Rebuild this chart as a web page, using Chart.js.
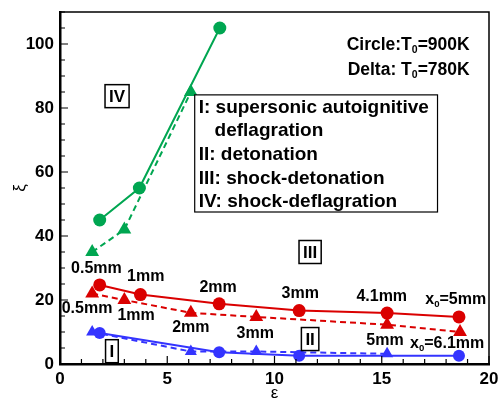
<!DOCTYPE html>
<html>
<head>
<meta charset="utf-8">
<script src="https://cdn.jsdelivr.net/npm/chart.js@4.4.1/dist/chart.umd.min.js"></script>
<style>
  html, body { margin: 0; padding: 0; background: #fff; }
  #wrap { width: 498px; height: 398px; }
</style>
</head>
<body>
<div id="wrap"><canvas id="chart"></canvas></div>
<script>
// données
const greenCircleX = [1.85, 3.7, 7.45];
const greenCircleY = [45, 55, 105];
const greenTriX = [1.5, 3.0, 6.1];
const greenTriY = [35, 42, 85];

const redCircleX = [1.85, 3.75, 7.42, 11.15, 15.25, 18.6];
const redCircleY = [24.7, 21.7, 18.8, 16.7, 15.9, 14.7];
const redTriX = [1.5, 3.0, 6.1, 9.15, 15.25, 18.65];
const redTriY = [22, 20, 16, 14.7, 12.3, 10];

const blueCircleX = [1.85, 7.42, 11.15, 18.6];
const blueCircleY = [9.7, 3.7, 2.6, 2.6];
const blueTriX = [1.5, 6.1, 9.15, 15.25];
const blueTriY = [10, 3.9, 3.9, 3.2];

const xTickLabels = [0, 5, 10, 15, 20];
const yTickLabels = [0, 20, 40, 60, 80, 100];

const circleLabels = ['0.5mm', '1mm', '2mm', '3mm', '4.1mm', '5mm'];
const triLabels = ['0.5mm', '1mm', '2mm', '3mm', '5mm', '6.1mm'];
const regimeLegend = ['I: supersonic autoignitive', '   deflagration', 'II: detonation', 'III: shock-detonation', 'IV: shock-deflagration'];

const GREEN = 'rgb(0,166,81)';
const RED = 'rgb(218,0,0)';
const BLUE = 'rgb(52,52,255)';
const FONT = '"Liberation Sans", Arial, sans-serif';

function pts(xs, ys) {
    return xs.map((x, i) => ({ x: x, y: ys[i] }));
}

function series(xs, ys, color, style, dashed, r) {
    return {
        data: pts(xs, ys),
        borderColor: color,
        backgroundColor: color,
        borderWidth: 2,
        borderDash: dashed ? [6, 4] : [],
        pointStyle: style,
        pointRadius: r,
        pointHoverRadius: r,
        pointBorderWidth: 0,
        tension: 0
    };
}

// texte avec indice (x0, T0)
function drawRich(ctx, parts, x, y, size, align) {
    let w = 0;
    parts.forEach(p => {
        ctx.font = 'bold ' + (p.sub ? size * 0.6 : size) + 'px ' + FONT;
        p.w = ctx.measureText(p.t).width;
        w += p.w;
    });
    let cx = align === 'right' ? x - w : (align === 'left' ? x : x - w / 2);
    ctx.textAlign = 'left';
    ctx.textBaseline = 'middle';
    parts.forEach(p => {
        ctx.font = 'bold ' + (p.sub ? size * 0.6 : size) + 'px ' + FONT;
        ctx.fillText(p.t, cx, p.sub ? y + size * 0.3 : y);
        cx += p.w;
    });
}

function boxedLabel(ctx, text, x, y, size) {
    ctx.font = 'bold ' + size + 'px ' + FONT;
    const w = ctx.measureText(text).width;
    const bw = w + 8, bh = size + 6;
    ctx.fillStyle = '#fff';
    ctx.fillRect(x - bw / 2, y - bh / 2, bw, bh);
    ctx.lineWidth = 1.5;
    ctx.strokeStyle = '#000';
    ctx.strokeRect(x - bw / 2, y - bh / 2, bw, bh);
    ctx.fillStyle = '#000';
    ctx.textAlign = 'center';
    ctx.textBaseline = 'middle';
    ctx.fillText(text, x, y + 1);
}

const decorPlugin = {
    id: 'decor',
    afterDatasetsDraw(chart) {
        const ctx = chart.ctx;
        const xs = chart.scales.x, ys = chart.scales.y;
        const a = chart.chartArea;
        const X = v => xs.getPixelForValue(v);
        const Y = v => ys.getPixelForValue(v);
        ctx.save();

        // cadre
        ctx.strokeStyle = '#000';
        ctx.lineWidth = 1.5;
        ctx.beginPath();
        ctx.moveTo(a.left, a.top);
        ctx.lineTo(a.right, a.top);
        ctx.lineTo(a.right, a.bottom);
        ctx.stroke();

        // graduations vers l'intérieur
        ctx.lineWidth = 1.2;
        ctx.beginPath();
        for (let v = 0; v <= 20; v += 1) {
            const len = v % 5 === 0 ? 8 : 5;
            ctx.moveTo(X(v), a.bottom);
            ctx.lineTo(X(v), a.bottom - len);
        }
        for (let v = 0; v <= 110; v += 5) {
            const len = v % 20 === 0 ? 8 : 5;
            ctx.moveTo(a.left, Y(v));
            ctx.lineTo(a.left + len, Y(v));
        }
        ctx.stroke();

        // étiquettes des points
        ctx.fillStyle = '#000';
        const fs = 16;
        const cPos = [[1.7, 29.7], [4.0, 27.2], [7.37, 23.8], [11.2, 21.9], [15.0, 21.2]];
        cPos.forEach((p, i) => drawRich(ctx, [{ t: circleLabels[i] }], X(p[0]), Y(p[1]), fs, 'center'));
        drawRich(ctx, [{ t: 'x' }, { t: '0', sub: true }, { t: '=' + circleLabels[5] }], X(18.45), Y(20), fs, 'center');
        const tPos = [[1.26, 17.2], [3.55, 15], [6.1, 11.3], [9.1, 9.4], [15.15, 7.2]];
        tPos.forEach((p, i) => drawRich(ctx, [{ t: triLabels[i] }], X(p[0]), Y(p[1]), fs, 'center'));
        drawRich(ctx, [{ t: 'x' }, { t: '0', sub: true }, { t: '=' + triLabels[5] }], X(18.05), Y(6.3), fs, 'center');

        // régimes
        boxedLabel(ctx, 'IV', X(2.66), Y(83.7), 17);
        boxedLabel(ctx, 'III', X(11.66), Y(35), 17);
        boxedLabel(ctx, 'II', X(11.66), Y(7.8), 17);
        boxedLabel(ctx, 'I', X(2.42), Y(4), 17);

        // températures
        ctx.fillStyle = '#000';
        drawRich(ctx, [{ t: 'Circle:T' }, { t: '0', sub: true }, { t: '=900K' }], X(19.1), Y(99.7), 17.5, 'right');
        drawRich(ctx, [{ t: 'Delta: T' }, { t: '0', sub: true }, { t: '=780K' }], X(19.1), Y(91.9), 17.5, 'right');

        // légende des régimes
        const bx = X(6.28), by = Y(84.1), bw = X(17.6) - bx, bh = Y(47.5) - by;
        ctx.fillStyle = '#fff';
        ctx.fillRect(bx, by, bw, bh);
        ctx.lineWidth = 1.2;
        ctx.strokeStyle = '#000';
        ctx.strokeRect(bx, by, bw, bh);
        ctx.fillStyle = '#000';
        ctx.font = 'bold 19px ' + FONT;
        ctx.textAlign = 'left';
        ctx.textBaseline = 'middle';
        const rowY = [80, 72.8, 65.3, 57.8, 50.6];
        regimeLegend.forEach((t, i) => ctx.fillText(t, bx + 4, Y(rowY[i])));

        ctx.restore();
    }
};

new Chart(document.getElementById('chart'), {
    type: 'line',
    data: {
        datasets: [
            series(greenCircleX, greenCircleY, GREEN, 'circle', false, 6.5),
            series(greenTriX, greenTriY, GREEN, 'triangle', true, 8),
            series(redCircleX, redCircleY, RED, 'circle', false, 6.5),
            series(redTriX, redTriY, RED, 'triangle', true, 8),
            series(blueCircleX, blueCircleY, BLUE, 'circle', false, 6),
            series(blueTriX, blueTriY, BLUE, 'triangle', true, 7)
        ]
    },
    options: {
        responsive: true,
        maintainAspectRatio: false,
        animation: false,
        layout: { padding: { top: 12, right: 9, left: 0, bottom: 0 } },
        plugins: { legend: { display: false }, tooltip: { enabled: false } },
        scales: {
            x: {
                type: 'linear',
                min: 0,
                max: 20,
                afterFit: s => { s.height = 34; s.paddingLeft = 0; s.paddingRight = 0; },
                border: { display: true, color: '#000', width: 2.5 },
                grid: { drawOnChartArea: false, drawTicks: false },
                ticks: {
                    stepSize: 5,
                    padding: 5,
                    color: '#000',
                    font: { family: FONT, size: 17, weight: 'bold' },
                    callback: v => xTickLabels.includes(v) ? v : ''
                },
                title: {
                    display: true,
                    text: 'ε',
                    color: '#000',
                    font: { family: FONT, size: 17 },
                    padding: { top: 0, bottom: -6 }
                }
            },
            y: {
                type: 'linear',
                min: 0,
                max: 110,
                afterFit: s => { s.width = 60; s.paddingTop = 0; s.paddingBottom = 0; },
                border: { display: true, color: '#000', width: 2.5 },
                grid: { drawOnChartArea: false, drawTicks: false },
                ticks: {
                    stepSize: 20,
                    includeBounds: false,
                    padding: 6,
                    color: '#000',
                    font: { family: FONT, size: 17, weight: 'bold' },
                    callback: v => yTickLabels.includes(v) ? v : ''
                },
                title: {
                    display: true,
                    text: 'ξ',
                    color: '#000',
                    font: { family: FONT, size: 17 },
                    padding: { top: 10, bottom: 0 }
                }
            }
        }
    },
    plugins: [decorPlugin]
});
</script>
</body>
</html>
